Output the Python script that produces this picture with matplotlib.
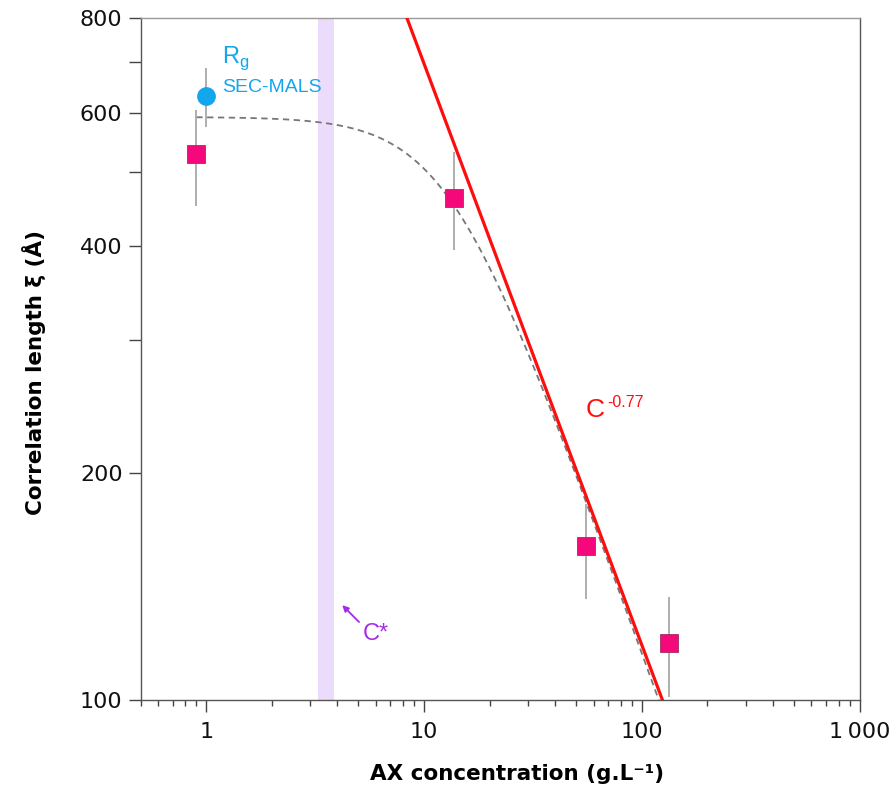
import numpy as np
import matplotlib
matplotlib.use("Agg")
import matplotlib.pyplot as plt
from matplotlib.ticker import FixedLocator, NullFormatter

# SAXS correlation length data
conc = [0.9, 13.7, 55.3, 133.0]
xi = [529, 462, 160, 119]
xi_lo = [451, 395, 136, 101]
xi_hi = [604, 532, 182, 137]

# Rg from SEC-MALS
rg_conc = [1.0]
rg = [631]
rg_lo = [574]
rg_hi = [687]

# power law fit  xi = A * C^-0.77
fit_A = 4100
fit_exp = -0.77

# crossover model (dashed): plateau xi0, tail B*C^-s, sharpness m
model_xi0 = 592
model_B = 4606
model_s = 0.8
model_m = 2.8

# overlap concentration band
cstar_lo, cstar_hi = 3.25, 3.85

yticks = [100, 200, 300, 400, 500, 600, 700, 800]
ylabels = ["100", "200", "", "400", "", "600", "", "800"]
xticks = [1, 10, 100, 1000]
xlabels = ["1", "10", "100", "1\u2009000"]

ann_font = ["Liberation Sans", "DejaVu Sans"]

fig = plt.figure(figsize=(8.96, 7.92), dpi=100)
ax = fig.add_axes([0.157, 0.116, 0.8025, 0.861])
ax.set_xscale("log")
ax.set_yscale("log")

ax.axvspan(cstar_lo, cstar_hi, color="#ecdcfc", lw=0, zorder=0)

cx = np.logspace(np.log10(0.9), 3, 400)
tail = model_B * cx ** (-model_s)
model = (model_xi0 ** -model_m + tail ** -model_m) ** (-1 / model_m)
ax.plot(cx, model, ls=(0, (3.5, 2.5)), color="#777777", lw=1.3, zorder=2)

lx = np.logspace(0, 3, 50)
ax.plot(lx, fit_A * lx ** fit_exp, color="#ff0d0d", lw=2.3, zorder=3)

yerr = [np.array(xi) - np.array(xi_lo), np.array(xi_hi) - np.array(xi)]
ax.errorbar(conc, xi, yerr=yerr, fmt="s", ms=12.5, mfc="#f5087a", mec="#a03060",
            mew=0.6, ecolor="#a8a8a8", elinewidth=1.3, capsize=0, zorder=4)

rerr = [np.array(rg) - np.array(rg_lo), np.array(rg_hi) - np.array(rg)]
ax.errorbar(rg_conc, rg, yerr=rerr, fmt="o", ms=12.5, mfc="#14a6ec", mec="#14a6ec",
            ecolor="#a8a8a8", elinewidth=1.3, capsize=0, zorder=4)

ax.text(1.184, 698, "R$_\\mathregular{g}$", color="#14a6ec", fontsize=17, va="baseline",
        family=ann_font)
ax.text(1.184, 638.7, "SEC-MALS", color="#14a6ec", fontsize=14, va="baseline", family=ann_font)

ax.text(55.3, 237, "C", color="#ff0d0d", fontsize=19, va="baseline", family=ann_font)
ax.text(69.0, 244.4, "-0.77", color="#ff0d0d", fontsize=11.5, va="baseline", family=ann_font)

ax.text(6.02, 122.3, "C*", color="#a62be8", fontsize=17, ha="center", va="center",
        family=ann_font)
ax.annotate("", xy=(4.21, 133.6), xytext=(5.03, 126.9),
            arrowprops=dict(arrowstyle="-|>", color="#a62be8", lw=1.3,
                            mutation_scale=9, shrinkA=0, shrinkB=0))

ax.set_xlim(0.5, 1000)
ax.set_ylim(100, 800)

ax.xaxis.set_major_locator(FixedLocator(xticks))
ax.set_xticklabels(xlabels)
ax.xaxis.set_minor_locator(FixedLocator(
    [m * 10.0 ** d for d in range(-1, 3) for m in range(2, 10) if 0.5 <= m * 10.0 ** d <= 1000]))
ax.xaxis.set_minor_formatter(NullFormatter())
ax.yaxis.set_major_locator(FixedLocator(yticks))
ax.set_yticklabels(ylabels)
ax.yaxis.set_minor_locator(FixedLocator([]))

ax.tick_params(axis="both", which="major", length=8.5, width=1, color="#444444",
               labelsize=16, labelcolor="#111111")
ax.tick_params(axis="x", which="major", pad=7)
ax.tick_params(axis="y", which="major", pad=4.5)
ax.tick_params(axis="x", which="minor", length=4, width=1, color="#444444")
for s in ax.spines.values():
    s.set_color("#555555")
    s.set_linewidth(1)
ax.spines["top"].set_color("#999999")

ax.set_xlabel("AX concentration (g.L\u207b\u00b9)", fontsize=15.5, fontweight="bold")
ax.set_ylabel("Correlation length ξ (Å)", fontsize=15.5, fontweight="bold")
ax.xaxis.set_label_coords(0.523, -0.093)
ax.yaxis.set_label_coords(-0.131, 0.481)

fig.savefig("out.png", dpi=100)
